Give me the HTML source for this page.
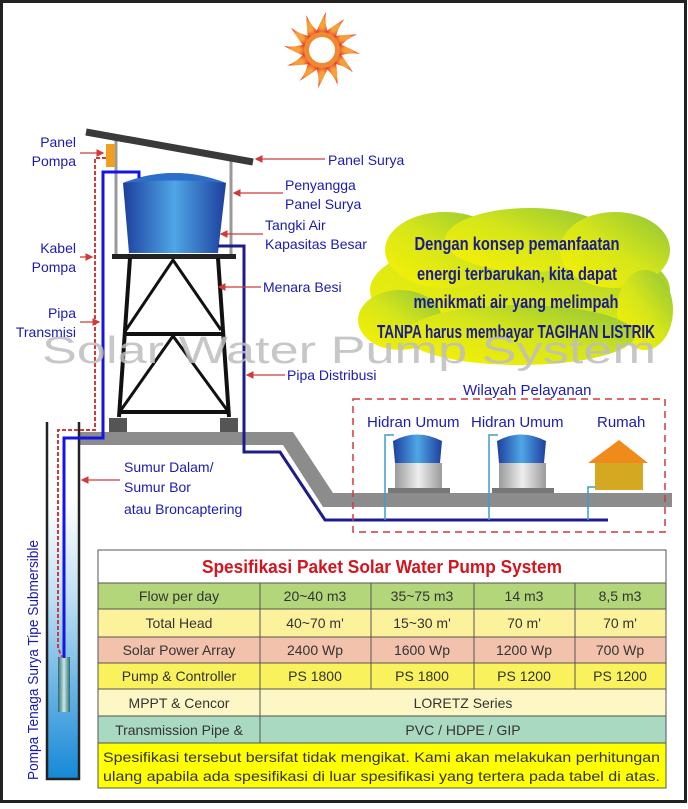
<!DOCTYPE html>
<html><head><meta charset="utf-8"><style>
html,body{margin:0;padding:0;background:#fff}
svg{display:block}
text{font-family:"Liberation Sans",sans-serif}
</style></head><body>
<svg width="688" height="809" viewBox="0 0 688 809" xmlns="http://www.w3.org/2000/svg">
<defs>
<linearGradient id="tank" x1="0" x2="1" y1="0" y2="0">
<stop offset="0" stop-color="#1d3f9e"/><stop offset="0.5" stop-color="#4fa6e6"/><stop offset="1" stop-color="#1d3f9e"/>
</linearGradient>
<linearGradient id="base" x1="0" x2="1"><stop offset="0" stop-color="#9a9a9a"/><stop offset="0.5" stop-color="#eee"/><stop offset="1" stop-color="#9a9a9a"/></linearGradient>
<linearGradient id="well" x1="0" x2="0" y1="0" y2="1"><stop offset="0" stop-color="#fff"/><stop offset="0.35" stop-color="#bfe0f4"/><stop offset="1" stop-color="#1689d6"/></linearGradient>
<linearGradient id="cloud" x1="0" y1="1" x2="1" y2="0"><stop offset="0" stop-color="#fbf200"/><stop offset="0.5" stop-color="#d6e61a"/><stop offset="1" stop-color="#8cc33a"/></linearGradient>
<linearGradient id="pump" x1="0" x2="1"><stop offset="0" stop-color="#2a6a70"/><stop offset="0.5" stop-color="#c8e8e8"/><stop offset="1" stop-color="#2a6a70"/></linearGradient>
<radialGradient id="sun"><stop offset="0.4" stop-color="#f6a03a"/><stop offset="1" stop-color="#e8402a"/></radialGradient>
<marker id="ah" markerWidth="6" markerHeight="6" refX="5" refY="3" orient="auto"><path d="M0,0 L6,3 L0,6z" fill="#d23a3a"/></marker>
</defs>
<rect x="1.5" y="1.5" width="684" height="800" fill="#fff" stroke="#222" stroke-width="3"/>

<!-- sun -->
<g transform="translate(322,50)">
<g fill="url(#sun)">
<path id="ray" d="M-7,-15 Q-2,-28 4,-38 Q2,-26 7,-15z"/>
<use href="#ray" transform="rotate(30)"/><use href="#ray" transform="rotate(60)"/><use href="#ray" transform="rotate(90)"/><use href="#ray" transform="rotate(120)"/><use href="#ray" transform="rotate(150)"/><use href="#ray" transform="rotate(180)"/><use href="#ray" transform="rotate(210)"/><use href="#ray" transform="rotate(240)"/><use href="#ray" transform="rotate(270)"/><use href="#ray" transform="rotate(300)"/><use href="#ray" transform="rotate(330)"/>
</g>
<circle r="18" fill="#f08a30"/><circle r="13" fill="#fff"/>
</g>

<!-- cloud -->
<g fill="url(#cloud)">
<ellipse cx="520" cy="290" rx="150" ry="55"/>
<ellipse cx="445" cy="250" rx="60" ry="38"/>
<ellipse cx="530" cy="240" rx="85" ry="32"/>
<ellipse cx="615" cy="250" rx="55" ry="38"/>
<ellipse cx="400" cy="320" rx="42" ry="30"/>
<ellipse cx="645" cy="310" rx="28" ry="40"/>
<ellipse cx="520" cy="335" rx="115" ry="30"/>
</g>
<g font-weight="bold" fill="#1b1b8c" font-size="18" text-anchor="middle">
<text x="517" y="250" textLength="205" lengthAdjust="spacingAndGlyphs">Dengan konsep pemanfaatan</text>
<text x="517" y="280" textLength="200" lengthAdjust="spacingAndGlyphs">energi terbarukan, kita dapat</text>
<text x="516" y="308" textLength="205" lengthAdjust="spacingAndGlyphs">menikmati air yang melimpah</text>
<text x="516" y="338" textLength="278" lengthAdjust="spacingAndGlyphs">TANPA harus membayar TAGIHAN LISTRIK</text>
</g>

<!-- ground -->
<path d="M80,432 L293,432 L333,493 L672,493 L672,507 L323,507 L283,445 L80,445z" fill="#8c8c8c"/>

<!-- well -->
<rect x="48" y="500" width="31" height="278" fill="url(#well)"/>
<path d="M47,422 V779 H79 V422" fill="none" stroke="#222" stroke-width="2.5"/>
<rect x="58" y="657" width="12" height="55" fill="url(#pump)"/>

<!-- posts -->
<line x1="116" y1="140" x2="116" y2="256" stroke="#999" stroke-width="3"/>
<line x1="231" y1="160" x2="231" y2="256" stroke="#999" stroke-width="3"/>
<!-- panel -->
<line x1="86" y1="132" x2="253" y2="162" stroke="#3a3a3a" stroke-width="7"/>
<rect x="106" y="144" width="9" height="23" fill="#f0a020"/>

<!-- tank -->
<path d="M123,183 Q174,163 226,183 L218,253 L129,253z" fill="url(#tank)"/>
<path d="M123,183 Q174,163 226,183 Q174,178 123,183z" fill="#2d6fc8"/>
<!-- platform & tower -->
<rect x="112" y="254" width="124" height="5" fill="#222"/>
<g stroke="#111" stroke-width="4" fill="none">
<line x1="130" y1="258" x2="119" y2="417"/><line x1="218" y1="258" x2="229" y2="417"/>
<line x1="124" y1="334" x2="223" y2="334"/><line x1="119" y1="412" x2="229" y2="412"/>
<polyline points="126,330 173,260 221,330" stroke-width="3"/>
<polyline points="121,410 173,336 227,410" stroke-width="3"/>
</g>
<rect x="109" y="418" width="18" height="14" fill="#555"/>
<rect x="220" y="418" width="18" height="14" fill="#555"/>

<!-- pipes -->
<polyline points="139,178 139,172 103,172 103,438 64,438 64,658" fill="none" stroke="#1414e6" stroke-width="3"/>
<polyline points="106,158 95,158 95,430 58,430 58,648 62,657" fill="none" stroke="#d23a3a" stroke-width="2" stroke-dasharray="4,2"/>
<polyline points="218,246 244,246 244,452 280,452 325,520 608,520" fill="none" stroke="#1c1c8a" stroke-width="3"/>

<!-- service area -->
<rect x="353" y="399" width="312" height="133" fill="none" stroke="#d23a3a" stroke-width="1.5" stroke-dasharray="7,5"/>
<g fill="none" stroke="#3aa0c8" stroke-width="1.5">
<polyline points="385,520 385,435 394,435"/><polyline points="489,520 489,435 498,435"/><polyline points="588,520 588,487 595,487"/>
</g>
<g id="hy">
<path d="M393,441 Q417,428 442,441 L440,463 L395,463z" fill="url(#tank)"/>
<rect x="395" y="463" width="47" height="27" fill="url(#base)"/>
<rect x="388" y="488" width="62" height="5" fill="#777"/>
</g>
<use href="#hy" transform="translate(104,0)"/>
<path d="M588,463 L619,440 L648,463z" fill="#f08a1a"/>
<rect x="595" y="463" width="48" height="27" fill="#d4a820"/>

<!-- watermark -->
<text x="42" y="363" font-size="38" fill="#bdbdbd" fill-opacity="0.85" textLength="614" lengthAdjust="spacingAndGlyphs">Solar Water Pump System</text>

<!-- labels -->
<g fill="#1b1bb0" font-size="14">
<text x="76" y="147" text-anchor="end">Panel</text><text x="76" y="166" text-anchor="end">Pompa</text>
<text x="76" y="253" text-anchor="end">Kabel</text><text x="76" y="272" text-anchor="end">Pompa</text>
<text x="76" y="318" text-anchor="end">Pipa</text><text x="76" y="337" text-anchor="end">Transmisi</text>
<text x="328" y="165">Panel Surya</text>
<text x="285" y="190">Penyangga</text><text x="285" y="209">Panel Surya</text>
<text x="265" y="230">Tangki Air</text><text x="265" y="249">Kapasitas Besar</text>
<text x="263" y="292">Menara Besi</text>
<text x="287" y="380">Pipa Distribusi</text>
<text x="124" y="472">Sumur Dalam/</text><text x="124" y="492">Sumur Bor</text><text x="124" y="514">atau Broncaptering</text>
<text x="463" y="395" font-size="15">Wilayah Pelayanan</text>
<text x="367" y="427" font-size="15">Hidran Umum</text><text x="471" y="427" font-size="15">Hidran Umum</text>
<text x="597" y="427" font-size="15">Rumah</text>
<text transform="translate(38,780) rotate(-90)" font-size="15" textLength="240" lengthAdjust="spacingAndGlyphs">Pompa Tenaga Surya Tipe Submersible</text>
</g>
<g stroke="#d23a3a" stroke-width="1.3" marker-end="url(#ah)">
<line x1="80" y1="153" x2="103" y2="153"/>
<line x1="80" y1="257" x2="92" y2="257"/>
<line x1="80" y1="322" x2="99" y2="322"/>
<line x1="325" y1="159" x2="256" y2="159"/>
<line x1="283" y1="193" x2="234" y2="193"/>
<line x1="263" y1="234" x2="221" y2="234"/>
<line x1="261" y1="287" x2="219" y2="287"/>
<line x1="285" y1="375" x2="247" y2="375"/>
<line x1="120" y1="480" x2="82" y2="480"/>
</g>

<!-- table -->
<g stroke="#555" stroke-width="1">
<rect x="98" y="550" width="568" height="33" fill="#fff"/>
<rect x="98" y="583" width="568" height="26" fill="#b3d67a"/>
<rect x="98" y="609" width="568" height="28" fill="#fdf29c"/>
<rect x="98" y="637" width="568" height="26" fill="#f2c2ac"/>
<rect x="98" y="663" width="568" height="26" fill="#faf25c"/>
<rect x="98" y="689" width="568" height="27" fill="#fdf7c6"/>
<rect x="98" y="716" width="568" height="27" fill="#a9d9c1"/>
<rect x="98" y="743" width="568" height="45" fill="#ffff00"/>
<line x1="260" y1="583" x2="260" y2="743"/>
<line x1="371" y1="583" x2="371" y2="689"/><line x1="474" y1="583" x2="474" y2="689"/><line x1="575" y1="583" x2="575" y2="689"/>
</g>
<text x="382" y="573" text-anchor="middle" font-family="Liberation Serif,serif" font-weight="bold" font-size="18" fill="#d4141e" textLength="360" lengthAdjust="spacingAndGlyphs">Spesifikasi Paket Solar Water Pump System</text>
<g font-size="14" fill="#333" text-anchor="middle">
<text x="179" y="601">Flow per day</text><text x="315" y="601">20~40 m3</text><text x="422" y="601">35~75 m3</text><text x="524" y="601">14 m3</text><text x="620" y="601">8,5 m3</text>
<text x="179" y="628">Total Head</text><text x="315" y="628">40~70 m'</text><text x="422" y="628">15~30 m'</text><text x="524" y="628">70 m'</text><text x="620" y="628">70 m'</text>
<text x="179" y="655">Solar Power Array</text><text x="315" y="655">2400 Wp</text><text x="422" y="655">1600 Wp</text><text x="524" y="655">1200 Wp</text><text x="620" y="655">700 Wp</text>
<text x="179" y="681">Pump &amp; Controller</text><text x="315" y="681">PS 1800</text><text x="422" y="681">PS 1800</text><text x="524" y="681">PS 1200</text><text x="620" y="681">PS 1200</text>
<text x="179" y="708">MPPT &amp; Cencor</text><text x="463" y="708">LORETZ Series</text>
<text x="179" y="735">Transmission Pipe &amp;</text><text x="463" y="735">PVC / HDPE / GIP</text>
</g>
<g font-size="14" fill="#333">
<text x="103" y="762" textLength="557" lengthAdjust="spacingAndGlyphs">Spesifikasi tersebut bersifat tidak mengikat. Kami akan melakukan perhitungan</text>
<text x="103" y="781" textLength="557" lengthAdjust="spacingAndGlyphs">ulang apabila ada spesifikasi di luar spesifikasi yang tertera pada tabel di atas.</text>
</g>
</svg>
</body></html>
